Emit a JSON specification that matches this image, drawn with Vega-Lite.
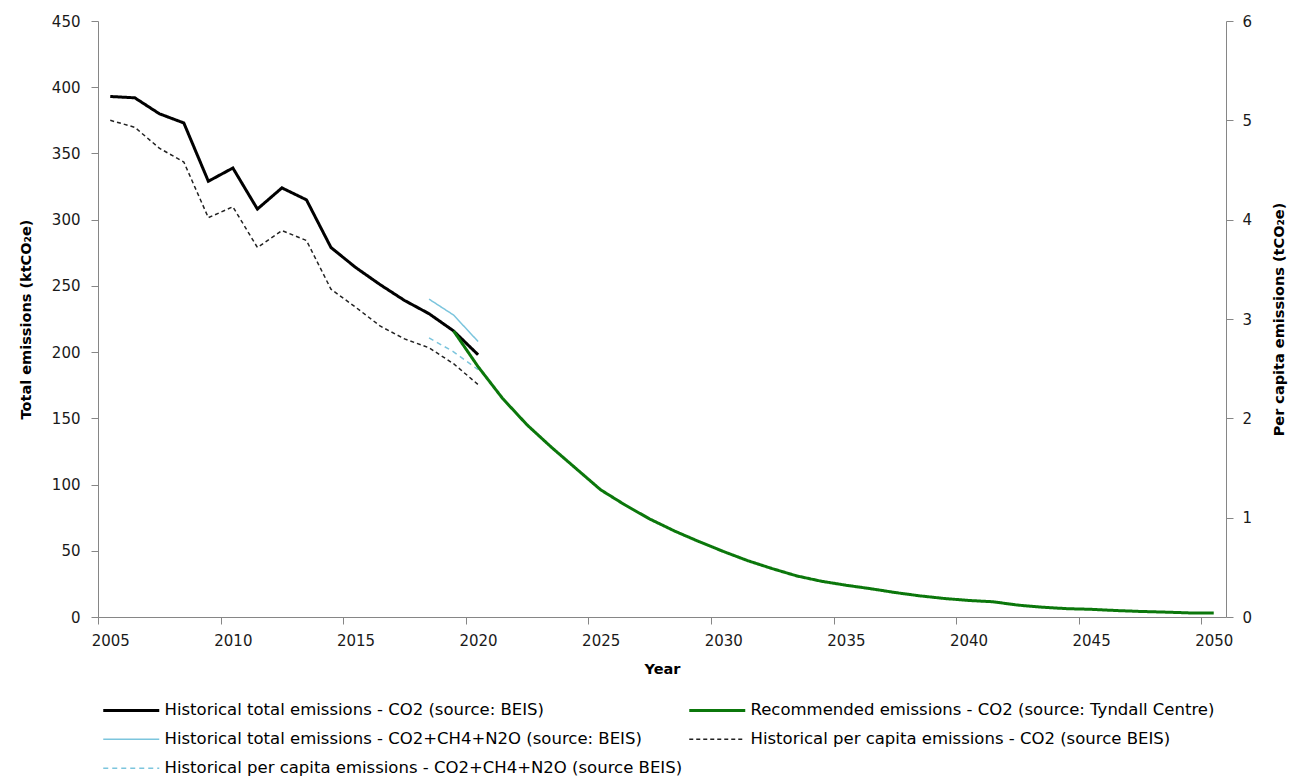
{
  "$schema": "https://vega.github.io/schema/vega-lite/v6.json",
  "width": 1128,
  "height": 596,
  "autosize": {"type": "none"},
  "padding": {"left": 98, "top": 21, "right": 69, "bottom": 163},
  "background": "white",
  "config": {
    "view": {"stroke": null},
    "font": "DejaVu Sans",
    "axis": {
      "grid": false,
      "domainColor": "#868686",
      "tickColor": "#868686",
      "tickSize": 7,
      "labelFont": "DejaVu Sans",
      "labelFontSize": 15,
      "labelColor": "#1a1a1a",
      "titleFont": "DejaVu Sans",
      "titleFontSize": 14.5,
      "titleFontWeight": "bold",
      "titleColor": "#000000"
    },
    "legend": {
      "orient": "none",
      "direction": "horizontal",
      "legendX": 25,
      "legendY": 681,
      "columns": 2,
      "columnPadding": 0,
      "rowPadding": 12,
      "symbolType": "stroke",
      "symbolSize": 3136,
      "symbolStrokeWidth": 1.5,
      "labelFont": "DejaVu Sans",
      "labelFontSize": 16.5,
      "labelColor": "#000000",
      "labelLimit": 1000,
      "labelOffset": 25,
      "title": null
    }
  },
  "data": {
    "values": [
      {"series": "Historical per capita emissions - CO2 (source BEIS)", "year": 2005, "value": 5.0},
      {"series": "Historical per capita emissions - CO2 (source BEIS)", "year": 2006, "value": 4.93},
      {"series": "Historical per capita emissions - CO2 (source BEIS)", "year": 2007, "value": 4.72},
      {"series": "Historical per capita emissions - CO2 (source BEIS)", "year": 2008, "value": 4.58},
      {"series": "Historical per capita emissions - CO2 (source BEIS)", "year": 2009, "value": 4.02},
      {"series": "Historical per capita emissions - CO2 (source BEIS)", "year": 2010, "value": 4.13},
      {"series": "Historical per capita emissions - CO2 (source BEIS)", "year": 2011, "value": 3.72},
      {"series": "Historical per capita emissions - CO2 (source BEIS)", "year": 2012, "value": 3.89},
      {"series": "Historical per capita emissions - CO2 (source BEIS)", "year": 2013, "value": 3.79},
      {"series": "Historical per capita emissions - CO2 (source BEIS)", "year": 2014, "value": 3.3},
      {"series": "Historical per capita emissions - CO2 (source BEIS)", "year": 2015, "value": 3.12},
      {"series": "Historical per capita emissions - CO2 (source BEIS)", "year": 2016, "value": 2.93},
      {"series": "Historical per capita emissions - CO2 (source BEIS)", "year": 2017, "value": 2.8},
      {"series": "Historical per capita emissions - CO2 (source BEIS)", "year": 2018, "value": 2.71},
      {"series": "Historical per capita emissions - CO2 (source BEIS)", "year": 2019, "value": 2.55},
      {"series": "Historical per capita emissions - CO2 (source BEIS)", "year": 2020, "value": 2.34},
      {"series": "Historical per capita emissions - CO2+CH4+N2O (source BEIS)", "year": 2018, "value": 2.81},
      {"series": "Historical per capita emissions - CO2+CH4+N2O (source BEIS)", "year": 2019, "value": 2.67},
      {"series": "Historical per capita emissions - CO2+CH4+N2O (source BEIS)", "year": 2020, "value": 2.49},
      {"series": "Historical total emissions - CO2+CH4+N2O (source: BEIS)", "year": 2018, "value": 240},
      {"series": "Historical total emissions - CO2+CH4+N2O (source: BEIS)", "year": 2019, "value": 228},
      {"series": "Historical total emissions - CO2+CH4+N2O (source: BEIS)", "year": 2020, "value": 208},
      {"series": "Historical total emissions - CO2 (source: BEIS)", "year": 2005, "value": 393},
      {"series": "Historical total emissions - CO2 (source: BEIS)", "year": 2006, "value": 392},
      {"series": "Historical total emissions - CO2 (source: BEIS)", "year": 2007, "value": 380},
      {"series": "Historical total emissions - CO2 (source: BEIS)", "year": 2008, "value": 373},
      {"series": "Historical total emissions - CO2 (source: BEIS)", "year": 2009, "value": 329},
      {"series": "Historical total emissions - CO2 (source: BEIS)", "year": 2010, "value": 339},
      {"series": "Historical total emissions - CO2 (source: BEIS)", "year": 2011, "value": 308},
      {"series": "Historical total emissions - CO2 (source: BEIS)", "year": 2012, "value": 324},
      {"series": "Historical total emissions - CO2 (source: BEIS)", "year": 2013, "value": 315},
      {"series": "Historical total emissions - CO2 (source: BEIS)", "year": 2014, "value": 279},
      {"series": "Historical total emissions - CO2 (source: BEIS)", "year": 2015, "value": 264},
      {"series": "Historical total emissions - CO2 (source: BEIS)", "year": 2016, "value": 251},
      {"series": "Historical total emissions - CO2 (source: BEIS)", "year": 2017, "value": 239},
      {"series": "Historical total emissions - CO2 (source: BEIS)", "year": 2018, "value": 229},
      {"series": "Historical total emissions - CO2 (source: BEIS)", "year": 2019, "value": 216},
      {"series": "Historical total emissions - CO2 (source: BEIS)", "year": 2020, "value": 198},
      {"series": "Recommended emissions - CO2 (source: Tyndall Centre)", "year": 2019, "value": 216},
      {"series": "Recommended emissions - CO2 (source: Tyndall Centre)", "year": 2020, "value": 189},
      {"series": "Recommended emissions - CO2 (source: Tyndall Centre)", "year": 2021, "value": 165},
      {"series": "Recommended emissions - CO2 (source: Tyndall Centre)", "year": 2022, "value": 145},
      {"series": "Recommended emissions - CO2 (source: Tyndall Centre)", "year": 2023, "value": 128},
      {"series": "Recommended emissions - CO2 (source: Tyndall Centre)", "year": 2024, "value": 112},
      {"series": "Recommended emissions - CO2 (source: Tyndall Centre)", "year": 2025, "value": 96},
      {"series": "Recommended emissions - CO2 (source: Tyndall Centre)", "year": 2026, "value": 84.5},
      {"series": "Recommended emissions - CO2 (source: Tyndall Centre)", "year": 2027, "value": 74},
      {"series": "Recommended emissions - CO2 (source: Tyndall Centre)", "year": 2028, "value": 65},
      {"series": "Recommended emissions - CO2 (source: Tyndall Centre)", "year": 2029, "value": 57},
      {"series": "Recommended emissions - CO2 (source: Tyndall Centre)", "year": 2030, "value": 49.5},
      {"series": "Recommended emissions - CO2 (source: Tyndall Centre)", "year": 2031, "value": 42.5},
      {"series": "Recommended emissions - CO2 (source: Tyndall Centre)", "year": 2032, "value": 36.5},
      {"series": "Recommended emissions - CO2 (source: Tyndall Centre)", "year": 2033, "value": 31},
      {"series": "Recommended emissions - CO2 (source: Tyndall Centre)", "year": 2034, "value": 27},
      {"series": "Recommended emissions - CO2 (source: Tyndall Centre)", "year": 2035, "value": 24},
      {"series": "Recommended emissions - CO2 (source: Tyndall Centre)", "year": 2036, "value": 21.4},
      {"series": "Recommended emissions - CO2 (source: Tyndall Centre)", "year": 2037, "value": 18.5},
      {"series": "Recommended emissions - CO2 (source: Tyndall Centre)", "year": 2038, "value": 16},
      {"series": "Recommended emissions - CO2 (source: Tyndall Centre)", "year": 2039, "value": 14},
      {"series": "Recommended emissions - CO2 (source: Tyndall Centre)", "year": 2040, "value": 12.5},
      {"series": "Recommended emissions - CO2 (source: Tyndall Centre)", "year": 2041, "value": 11.5},
      {"series": "Recommended emissions - CO2 (source: Tyndall Centre)", "year": 2042, "value": 9},
      {"series": "Recommended emissions - CO2 (source: Tyndall Centre)", "year": 2043, "value": 7.4},
      {"series": "Recommended emissions - CO2 (source: Tyndall Centre)", "year": 2044, "value": 6.3},
      {"series": "Recommended emissions - CO2 (source: Tyndall Centre)", "year": 2045, "value": 5.8},
      {"series": "Recommended emissions - CO2 (source: Tyndall Centre)", "year": 2046, "value": 4.9},
      {"series": "Recommended emissions - CO2 (source: Tyndall Centre)", "year": 2047, "value": 4.2},
      {"series": "Recommended emissions - CO2 (source: Tyndall Centre)", "year": 2048, "value": 3.7},
      {"series": "Recommended emissions - CO2 (source: Tyndall Centre)", "year": 2049, "value": 3.1},
      {"series": "Recommended emissions - CO2 (source: Tyndall Centre)", "year": 2050, "value": 3.0}
    ]
  },
  "encoding": {
    "x": {
      "field": "year",
      "type": "quantitative",
      "scale": {"domain": [2004.5, 2050.5], "nice": false, "zero": false},
      "axis": {
        "title": "Year",
        "values": [2004.5, 2009.5, 2014.5, 2019.5, 2024.5, 2029.5, 2034.5, 2039.5, 2044.5, 2049.5],
        "labelExpr": "format(datum.value + 0.5, 'd')",
        "labelOffset": 12.26,
        "labelFlush": false,
        "labelOverlap": false,
        "labelPadding": 9,
        "titlePadding": 14
      }
    },
    "color": {
      "field": "series",
      "type": "nominal",
      "scale": {
        "domain": [
          "Historical total emissions - CO2 (source: BEIS)",
          "Recommended emissions - CO2 (source: Tyndall Centre)",
          "Historical total emissions - CO2+CH4+N2O (source: BEIS)",
          "Historical per capita emissions - CO2 (source BEIS)",
          "Historical per capita emissions - CO2+CH4+N2O (source BEIS)"
        ],
        "range": ["#000000", "#0b770b", "#7cc5dd", "#222222", "#7cc5dd"]
      },
      "legend": {
        "encode": {
          "symbols": {
            "update": {
              "strokeWidth": {"signal": "(datum.value === 'Historical total emissions - CO2 (source: BEIS)' || datum.value === 'Recommended emissions - CO2 (source: Tyndall Centre)') ? 3 : 1.5"}
            }
          }
        }
      }
    },
    "strokeDash": {
      "field": "series",
      "type": "nominal",
      "scale": {
        "domain": [
          "Historical total emissions - CO2 (source: BEIS)",
          "Recommended emissions - CO2 (source: Tyndall Centre)",
          "Historical total emissions - CO2+CH4+N2O (source: BEIS)",
          "Historical per capita emissions - CO2 (source BEIS)",
          "Historical per capita emissions - CO2+CH4+N2O (source BEIS)"
        ],
        "range": [[1, 0], [1, 0], [1, 0], [4, 3], [5, 4]]
      }
    },
    "strokeWidth": {
      "condition": {
        "test": "datum.series === 'Historical total emissions - CO2 (source: BEIS)' || datum.series === 'Recommended emissions - CO2 (source: Tyndall Centre)'",
        "value": 3
      },
      "value": 1.5
    }
  },
  "layer": [
    {
      "transform": [
        {"filter": {"field": "series", "oneOf": ["Historical per capita emissions - CO2 (source BEIS)", "Historical per capita emissions - CO2+CH4+N2O (source BEIS)"]}}
      ],
      "mark": {"type": "line"},
      "encoding": {
        "y": {
          "field": "value",
          "type": "quantitative",
          "scale": {"domain": [0, 6], "nice": false},
          "axis": {
            "orient": "right",
            "title": "Per capita emissions (tCO₂e)",
            "titleAngle": 270,
            "values": [0, 1, 2, 3, 4, 5, 6],
            "labelPadding": 9,
            "titlePadding": 35
          }
        }
      }
    },
    {
      "transform": [
        {"filter": {"field": "series", "oneOf": ["Historical total emissions - CO2+CH4+N2O (source: BEIS)", "Historical total emissions - CO2 (source: BEIS)", "Recommended emissions - CO2 (source: Tyndall Centre)"]}}
      ],
      "mark": {"type": "line"},
      "encoding": {
        "y": {
          "field": "value",
          "type": "quantitative",
          "scale": {"domain": [0, 450], "nice": false},
          "axis": {
            "orient": "left",
            "title": "Total emissions (ktCO₂e)",
            "values": [0, 50, 100, 150, 200, 250, 300, 350, 400, 450],
            "labelPadding": 11,
            "titlePadding": 18
          }
        }
      }
    }
  ],
  "resolve": {"scale": {"y": "independent"}}
}
